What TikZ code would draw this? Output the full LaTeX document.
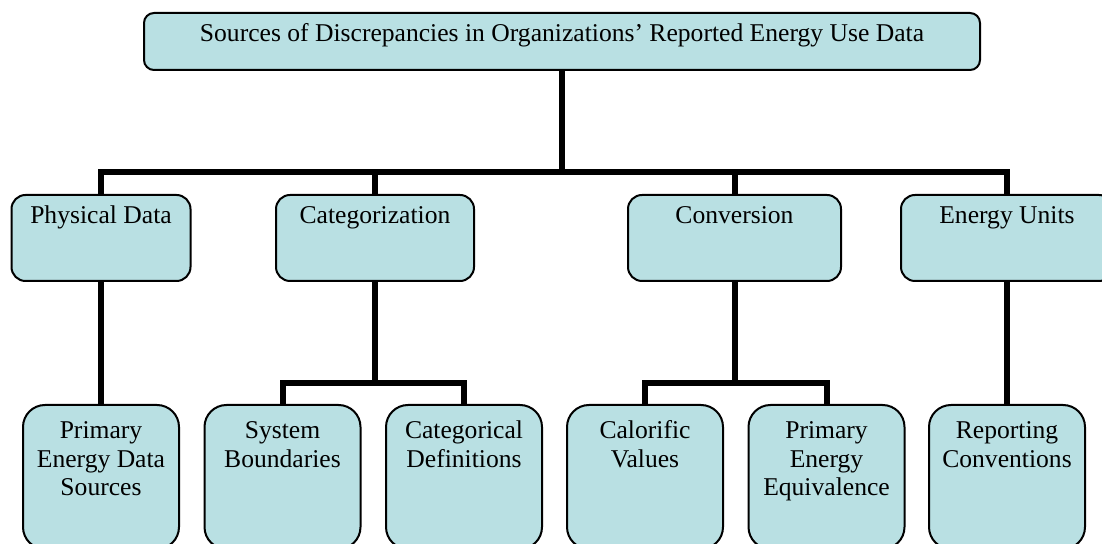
\documentclass[tikz,border=0pt]{standalone}
\usepackage{fontspec}
\setmainfont{Liberation Serif}

\begin{document}
\begin{tikzpicture}[x=0.5pt, y=-0.5pt,
    box/.style={draw, line width=1pt, fill=boxfill, align=flush center, anchor=north,
        font=\fontsize{12.8}{14.2}\selectfont, text height=9pt},
    topbox/.style={box, rounded corners=5pt, minimum width=418pt, inner ysep=5.5pt, text depth=8.5pt},
    midbox/.style={box, rounded corners=7pt, inner ysep=5.5pt, text depth=23pt},
    lowbox/.style={box, rounded corners=11pt, text width=74pt, inner xsep=2pt, inner ysep=7.85pt, text depth=47.3pt},
    conn/.style={line width=3pt}]
    \definecolor{boxfill}{RGB}{185,224,227}
    \useasboundingbox (0,0) rectangle (1102,544);
    \clip (0,0) rectangle (1102,544);
    % Top box
    \node[topbox] (src) at (562,12) {Sources of Discrepancies in Organizations’ Reported Energy Use Data};
    % Second level
    \node[midbox, minimum width=89.5pt] (phys) at (101,194) {Physical Data};
    \node[midbox, minimum width=99pt] (cat) at (375,194) {Categorization};
    \node[midbox, minimum width=106.5pt] (conv) at (734.5,194) {Conversion};
    \node[midbox, minimum width=106pt] (units) at (1007,194) {Energy Units};
    % Third level
    \node[lowbox] (prim) at (101,404) {Primary\\Energy Data\\Sources};
    \node[lowbox] (sysb) at (282.5,404) {System\\Boundaries};
    \node[lowbox] (catdef) at (464,404) {Categorical\\Definitions};
    \node[lowbox] (calor) at (645,404) {Calorific\\Values};
    \node[lowbox] (primeq) at (826.5,404) {Primary\\Energy\\Equivalence};
    \node[lowbox] (report) at (1007,404) {Reporting\\Conventions};
    % Connectors
    \coordinate (bus) at (0,172);
    \coordinate (subbus) at (0,383);
    \foreach \n in {phys, cat, conv, units}
        \draw[conn] (src.south) -- (src.south |- bus) -| (\n.north);
    \draw[conn] (phys.south) -- (prim.north);
    \draw[conn] (units.south) -- (report.north);
    \draw[conn] (cat.south) -- (cat.south |- subbus) -| (sysb.north);
    \draw[conn] (cat.south) -- (cat.south |- subbus) -| (catdef.north);
    \draw[conn] (conv.south) -- (conv.south |- subbus) -| (calor.north);
    \draw[conn] (conv.south) -- (conv.south |- subbus) -| (primeq.north);
\end{tikzpicture}
\end{document}
